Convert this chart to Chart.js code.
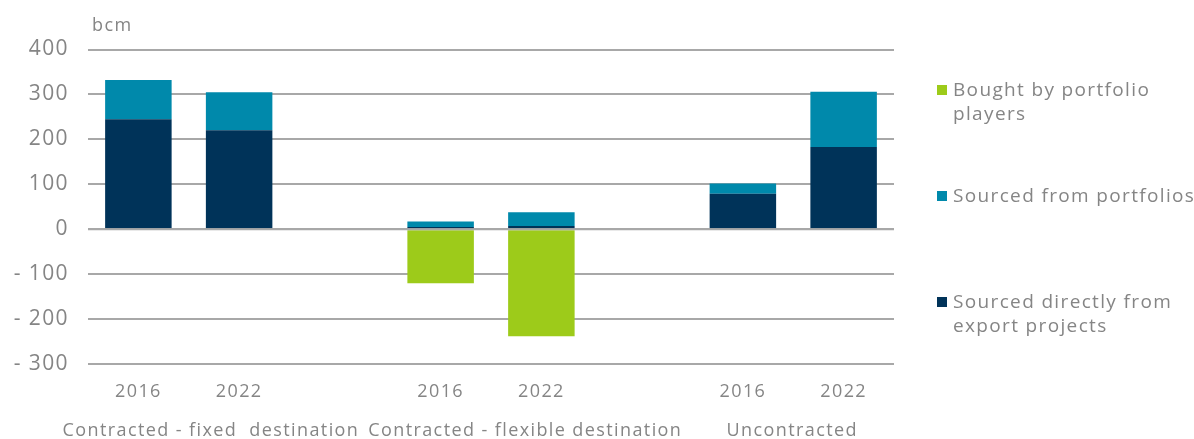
<!DOCTYPE html>
<html>
<head>
<meta charset="utf-8">
<script src="https://cdn.jsdelivr.net/npm/chart.js@4/dist/chart.umd.min.js"></script>
<style>
  html, body { margin: 0; padding: 0; background: #fff; }
  #wrap { position: relative; width: 1194px; height: 439px; }
  #legend { position: absolute; left: 937px; top: 0; font-family: "Open Sans", sans-serif; font-size: 19px; letter-spacing: 1.35px; color: #858585; line-height: 24px; }
  .item { position: absolute; left: 0; white-space: nowrap; }
  .sw { position: absolute; left: 0; top: 7px; width: 10px; height: 10px; }
  .txt { position: absolute; left: 16px; top: -1px; }
</style>
</head>
<body>
<div id="wrap">
  <canvas id="c" width="1194" height="439"></canvas>
  <div id="legend"></div>
</div>
<script>
// Years per bar slot; empty slots separate the three contract groups
const categories = ['2016', '2022', '', '2016', '2022', '', '2016', '2022'];
const groupLabels = ['Contracted - fixed  destination', 'Contracted - flexible destination', 'Uncontracted'];
// Horizontal centre of each group label, in category-index units
const groupCentres = [0.72, 3.84, 6.49];

// Volumes in bcm
const sourcedDirect = [245, 220, null, 5, 7, null, 79, 183];
const sourcedPortfolios = [87, 85, null, 12, 31, null, 23, 123];
const boughtPortfolio = [null, null, null, -120, -238, null, null, null];

const seriesNames = ['Bought by portfolio players', 'Sourced from portfolios', 'Sourced directly from export projects'];
const legendLines = [['Bought by portfolio', 'players'], ['Sourced from portfolios'], ['Sourced directly from', 'export projects']];

const GREEN = '#9dcb1a', TEAL = '#0089ab', NAVY = '#003359';
const TEXT = '#858585', GRID = '#a8a8a8';
const FONT = '"Open Sans", sans-serif';
const SPACING = '1.4px';

const extras = {
  id: 'extras',
  beforeDraw(chart) {
    // wide tracking for all canvas text
    chart.ctx.letterSpacing = SPACING;
  },
  afterDatasetsDraw(chart) {
    // zero line sits above the bars
    const ctx = chart.ctx, area = chart.chartArea;
    const y0 = chart.scales.y.getPixelForValue(0);
    ctx.save();
    ctx.strokeStyle = GRID;
    ctx.lineWidth = 2;
    ctx.beginPath();
    ctx.moveTo(area.left, y0);
    ctx.lineTo(area.right, y0);
    ctx.stroke();
    ctx.restore();
  },
  afterDraw(chart) {
    const ctx = chart.ctx, x = chart.scales.x, area = chart.chartArea;
    ctx.save();
    ctx.letterSpacing = SPACING;
    ctx.fillStyle = TEXT;
    ctx.font = '18px ' + FONT;
    ctx.textAlign = 'center';
    ctx.textBaseline = 'middle';
    groupLabels.forEach((g, i) => {
      const px = x.left + (groupCentres[i] + 0.5) / categories.length * x.width;
      ctx.fillText(g, px, area.bottom + 67);
    });
    ctx.textAlign = 'left';
    ctx.font = '18px ' + FONT;
    ctx.fillText('bcm', 92, area.top - 24);
    ctx.restore();
  }
};

new Chart(document.getElementById('c'), {
  type: 'bar',
  data: {
    labels: categories,
    datasets: [
      { label: seriesNames[2], data: sourcedDirect, backgroundColor: NAVY, stack: 's' },
      { label: seriesNames[1], data: sourcedPortfolios, backgroundColor: TEAL, stack: 's' },
      { label: seriesNames[0], data: boughtPortfolio, backgroundColor: GREEN, stack: 's' }
    ]
  },
  options: {
    responsive: false,
    animation: false,
    devicePixelRatio: 1,
    layout: { padding: { top: 49.5, right: 300, left: 0, bottom: 0 } },
    plugins: { legend: { display: false }, tooltip: { enabled: false } },
    datasets: { bar: { barPercentage: 0.66, categoryPercentage: 1, borderWidth: 0 } },
    scales: {
      x: {
        stacked: true,
        grid: { display: false },
        border: { display: false },
        ticks: { color: TEXT, font: { family: FONT, size: 18 }, padding: 9, maxRotation: 0, autoSkip: false },
        afterFit(s) { s.height = 75; }
      },
      y: {
        stacked: true,
        min: -300, max: 400,
        grid: { color: GRID, lineWidth: 2, drawTicks: false },
        border: { display: false },
        ticks: {
          stepSize: 100, color: TEXT, padding: 19,
          font: { family: FONT, size: 21 },
          callback: v => v < 0 ? '- ' + Math.abs(v) : String(v)
        },
        afterFit(s) { s.width = 88; }
      }
    }
  },
  plugins: [extras]
});

// Side legend with wrapped series names
const legendTops = [78, 184, 290];
const legendColors = [GREEN, TEAL, NAVY];
const lg = document.getElementById('legend');
legendLines.forEach((lines, i) => {
  const it = document.createElement('div');
  it.className = 'item';
  it.style.top = legendTops[i] + 'px';
  const sw = document.createElement('div');
  sw.className = 'sw';
  sw.style.background = legendColors[i];
  const t = document.createElement('div');
  t.className = 'txt';
  t.innerHTML = lines.join('<br>');
  it.appendChild(sw); it.appendChild(t);
  lg.appendChild(it);
});
</script>
</body>
</html>
